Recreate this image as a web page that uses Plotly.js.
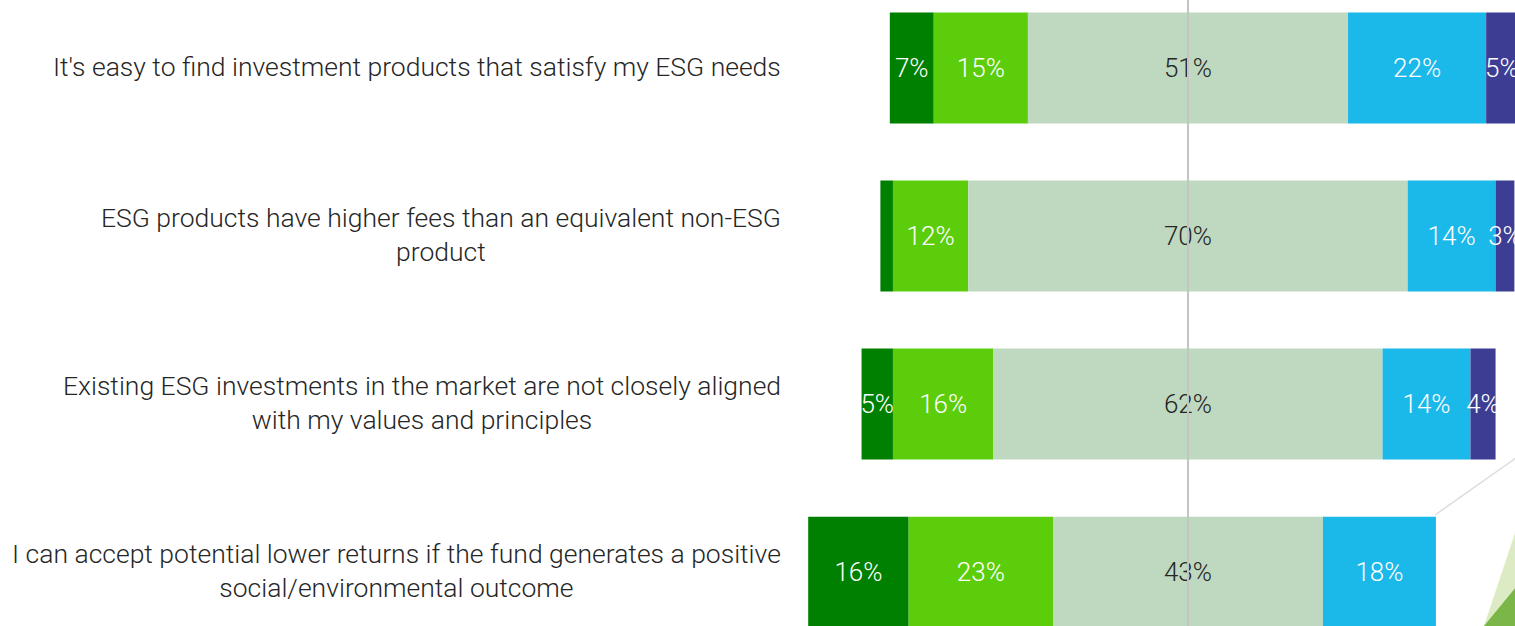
<!DOCTYPE html>
<html>
<head>
<meta charset="utf-8">
<script src="https://cdn.plot.ly/plotly-3.0.1.min.js"></script>
<style>
  html, body { margin: 0; padding: 0; background: #fff; overflow: hidden; }
  #graph { width: 1540px; height: 626px; }
</style>
</head>
<body>
<div id="graph"></div>
<script>
// Survey statements (top to bottom)
var categories = [
  "It's easy to find investment products that satisfy my ESG needs",
  "ESG products have higher fees than an equivalent non-ESG<br>product",
  "Existing ESG investments in the market are not closely aligned<br>with my values and principles",
  "I can accept potential lower returns if the fund generates a positive<br>social/environmental outcome"
];

// Share of answers, in %
var stronglyDisagree = [7, 2, 5, 16];
var disagree = [15, 12, 16, 23];
var neutral = [51, 70, 62, 43];
var agree = [22, 14, 14, 18];
var stronglyAgree = [5, 3, 4, 0];

var colors = ['#008000', '#5ccd0b', '#bed9c0', '#1bb8ea', '#3d3d94'];
var textColors = ['#ffffff', '#ffffff', '#262626', '#ffffff', '#ffffff'];

var rows = categories.map(function (c, i) { return i; });

// Diverging layout: neutral block centred on zero
var bases = [
  rows.map(function (i) { return -(neutral[i] / 2 + disagree[i] + stronglyDisagree[i]); }),
  rows.map(function (i) { return -(neutral[i] / 2 + disagree[i]); }),
  rows.map(function (i) { return -neutral[i] / 2; }),
  rows.map(function (i) { return neutral[i] / 2; }),
  rows.map(function (i) { return neutral[i] / 2 + agree[i]; })
];
var series = [stronglyDisagree, disagree, neutral, agree, stronglyAgree];

var data = series.map(function (vals, k) {
  return {
    type: 'bar',
    orientation: 'h',
    y: rows,
    x: vals,
    base: bases[k],
    width: 0.66,
    marker: { color: colors[k], line: { width: 0 } },
    text: vals.map(function (v) { return v >= 3 ? v + '%' : ''; }),
    textposition: 'inside',
    insidetextanchor: 'middle',
    textangle: 0,
    constraintext: 'none',
    cliponaxis: false,
    textfont: { family: 'Roboto', size: 26, weight: 300, color: textColors[k] },
    hoverinfo: 'none',
    showlegend: false
  };
});

var labels = categories.map(function (c, i) {
  return {
    xref: 'paper', x: 0, xshift: -7, xanchor: 'right',
    yref: 'y', y: i, yanchor: 'middle', yshift: 2,
    text: c, align: 'center', showarrow: false,
    font: { family: 'Roboto', size: 26.5, weight: 300, color: '#262626' }
  };
});

var layout = {
  width: 1540,
  height: 626,
  margin: { l: 790, r: 0, t: 0, b: 0 },
  barmode: 'overlay',
  paper_bgcolor: '#ffffff',
  plot_bgcolor: '#ffffff',
  font: { family: 'Roboto', weight: 300 },
  xaxis: { range: [-63.4, 56.08], visible: false, fixedrange: true },
  yaxis: { range: [3.321, -0.405], visible: false, fixedrange: true },
  annotations: labels,
  shapes: [
    { type: 'line', xref: 'x', x0: 0, x1: 0, yref: 'paper', y0: 0, y1: 1,
      line: { color: '#c4c4c4', width: 2 }, layer: 'above' },
    // decorative corner (paper coords over a 750px wide plot area)
    { type: 'path', xref: 'paper', yref: 'paper', path: 'M 0.9253 0 L 0.9680 0.1534 L 1 0.1534 L 1 0 Z',
      fillcolor: '#dcebc4', line: { width: 0 }, layer: 'below' },
    { type: 'path', xref: 'paper', yref: 'paper', path: 'M 0.9253 0 L 0.9680 0.0623 L 1 0.0623 L 1 0 Z',
      fillcolor: '#7ab648', line: { width: 0 }, layer: 'below' },
    { type: 'line', xref: 'paper', yref: 'paper', x0: 0.86, y0: 0.1773, x1: 0.9680, y1: 0.2684,
      line: { color: '#dcdcdc', width: 1.5 }, layer: 'below' }
  ]
};

Plotly.newPlot('graph', data, layout, { displayModeBar: false, staticPlot: true });
</script>
</body>
</html>
